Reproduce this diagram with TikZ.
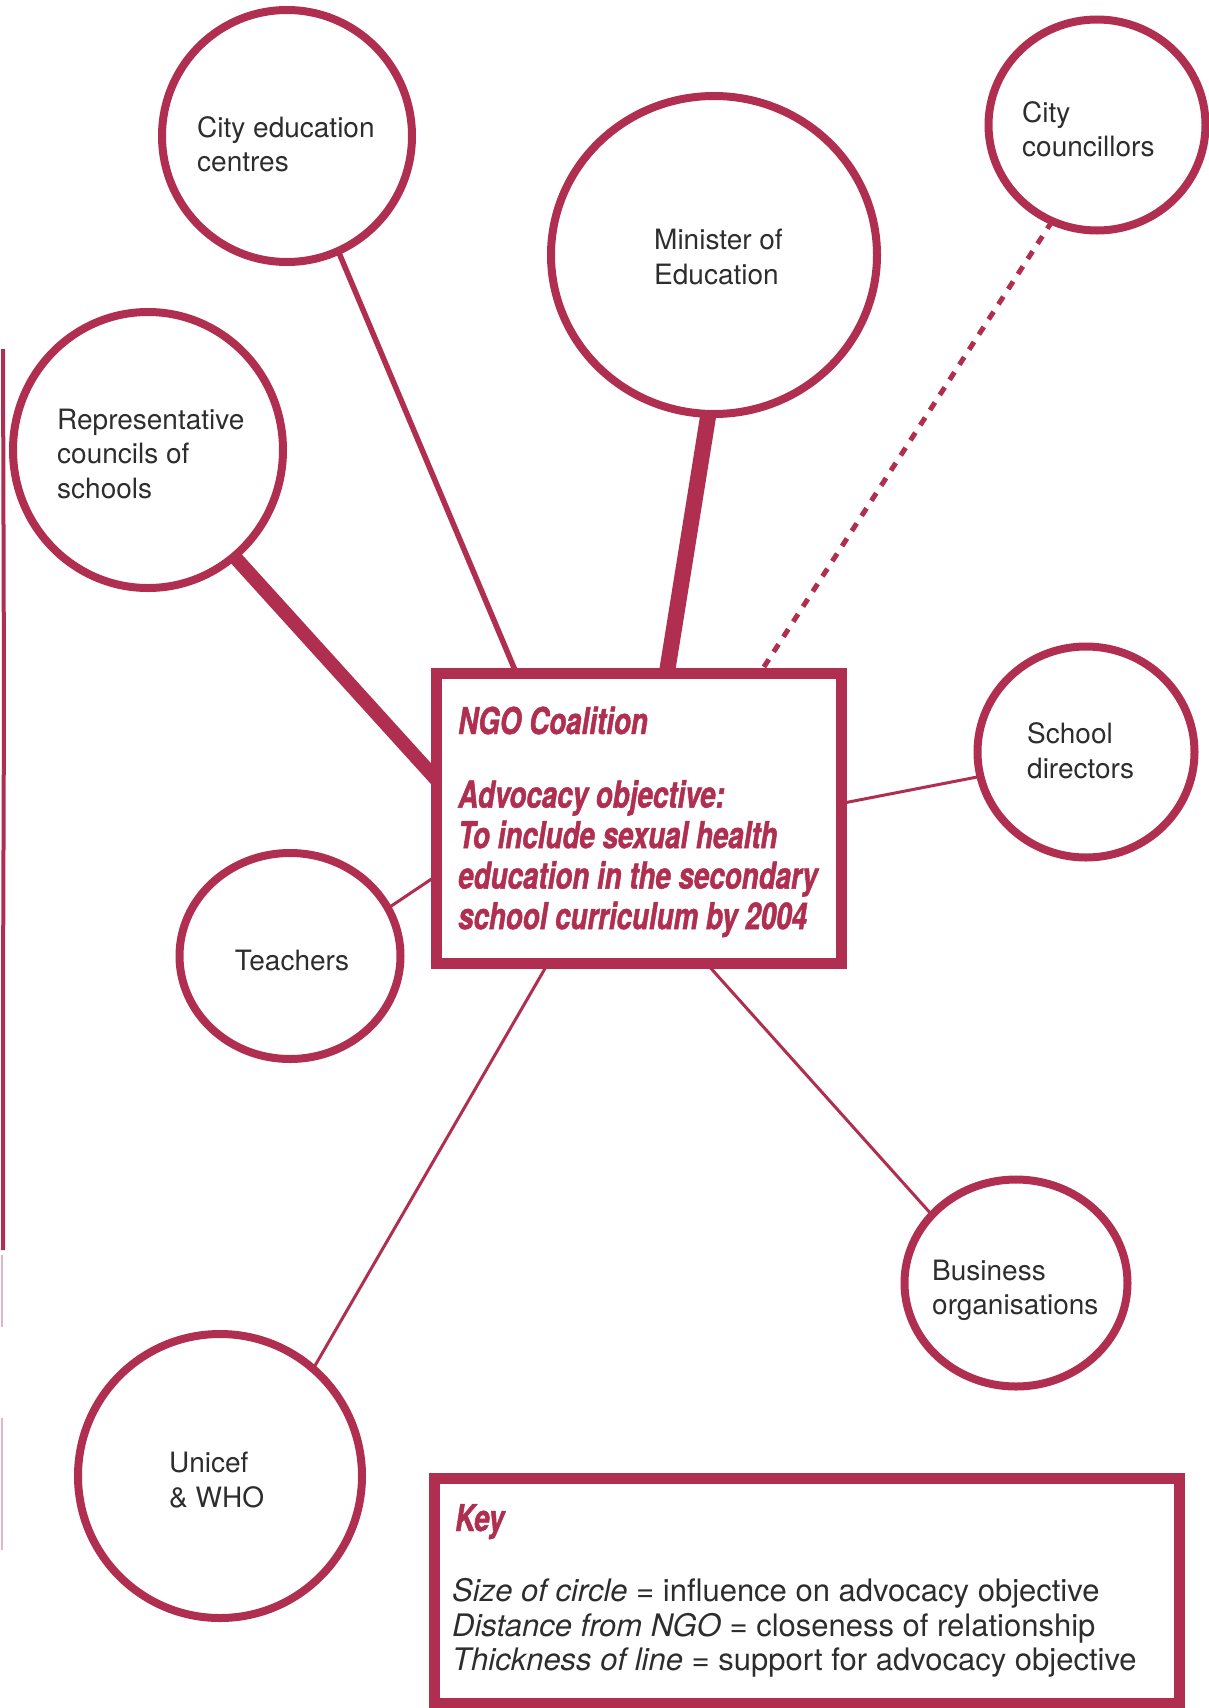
\documentclass[tikz,border=0pt]{standalone}
\usepackage{fontspec}
\setmainfont{TeX Gyre Heros}
\newfontfamily\ngofont[FakeStretch=0.75,FakeBold=1.2]{TeX Gyre Heros}
\usetikzlibrary{shapes.geometric,calc,backgrounds}
\definecolor{crim}{RGB}{176,46,79}
\definecolor{ink}{RGB}{45,45,45}
\begin{document}
\begin{tikzpicture}[x=1pt,y=-1pt,
  actor/.style={ellipse, draw=crim, line width=8pt, inner sep=0pt, outer sep=0pt},
  lbl/.style={text=ink, font=\fontsize{28}{34.5}\selectfont, align=left, inner sep=0pt, anchor=west},
  keylbl/.style={lbl, font=\fontsize{31}{34.5}\selectfont},
  frame/.style={rectangle, draw=crim, line width=11pt, inner sep=0pt, outer sep=0pt, fill=white},
  ngotext/.style={text=crim, font=\ngofont\bfseries\itshape\fontsize{37}{40.5}\selectfont, align=left, inner sep=0pt},
  link/.style={draw=crim, line cap=round},
]
\useasboundingbox (0,0) rectangle (1208,1708);

% actor circles
\node[actor, minimum width=250pt, minimum height=252pt] (cec) at (287,136) {};
\node[actor, minimum width=270pt, minimum height=276pt] (rep) at (148,450) {};
\node[actor, minimum width=326pt, minimum height=318pt] (min) at (714,255) {};
\node[actor, minimum width=217pt, minimum height=211pt] (cc) at (1097,125) {};
\node[actor, minimum width=217pt, minimum height=211pt] (sd) at (1086,752) {};
\node[actor, minimum width=221pt, minimum height=206pt] (tea) at (290,956) {};
\node[actor, minimum width=223pt, minimum height=207pt] (bus) at (1016,1283) {};
\node[actor, minimum width=284pt, minimum height=284pt] (uni) at (220,1476) {};

% frames
\node[frame, minimum width=405pt, minimum height=290pt] (ngo) at (638.5,818) {};
\node[frame, minimum width=745pt, minimum height=225pt] (key) at (806.5,1590.5) {};

% connectors
\begin{scope}[on background layer]
\draw[link, line width=5.5pt] (cec.-66) -- ($(ngo.north west)!0.198!(ngo.north east)$);
\draw[link, line width=16pt, line cap=butt] (min.-92) -- ($(ngo.north west)!0.57!(ngo.north east)$);
\draw[link, line width=14pt, line cap=butt] (rep.-51) -- ($(ngo.north west)!0.366!(ngo.south west)$);
\draw[link, line width=5pt, dash pattern=on 9pt off 9pt, line cap=butt] (cc.-115) -- ($(ngo.north west)!0.80!(ngo.north east)$);
\draw[link, line width=3pt] (sd.193) -- ($(ngo.north east)!0.45!(ngo.south east)$);
\draw[link, line width=3pt] (tea.26) -- ($(ngo.north west)!0.70!(ngo.south west)$);
\draw[link, line width=3pt] (uni.49) -- ($(ngo.south west)!0.277!(ngo.south east)$);
\draw[link, line width=3pt] (bus.141) -- ($(ngo.south west)!0.667!(ngo.south east)$);
\end{scope}

% left edge stroke
\draw[crim, line width=4pt] (3,349) -- (4,700) -- (3,1000) -- (3,1250);
\draw[crim!35, line width=2pt] (2,1255) -- (2,1327);
\draw[crim!35, line width=2pt] (2,1418) -- (2,1550);

% labels
\node[lbl] (tcec) at (197,144) {City education\\centres};
\node[lbl] (trep) at (57,453.5) {Representative\\councils of\\schools};
\node[lbl] (tmin) at (654,257) {Minister of\\Education};
\node[lbl] (tcc) at (1022,129) {City\\councillors};
\node[lbl] (tsd) at (1027,750.5) {School\\directors};
\node[lbl, anchor=center] (ttea) at (292,960) {Teachers};
\node[lbl] (tbus) at (932,1290.5) {Business\\organisations};
\node[lbl] (tuni) at (169,1480) {Unicef\\\& WHO};

\node[ngotext, anchor=base west] (ngot) at (458,734) {NGO Coalition};
\node[ngotext, anchor=north west] (ngob) at (458,780) {Advocacy objective:\\To include sexual health\\education in the secondary\\school curriculum by 2004};

\node[ngotext, anchor=base west] (keyt) at (455,1531) {Key};
\node[keylbl] (keyb) at (452,1628) {\textit{Size of circle} = influence on advocacy objective\\\textit{Distance from NGO} = closeness of relationship\\\textit{Thickness of line} = support for advocacy objective};
\end{tikzpicture}
\end{document}
